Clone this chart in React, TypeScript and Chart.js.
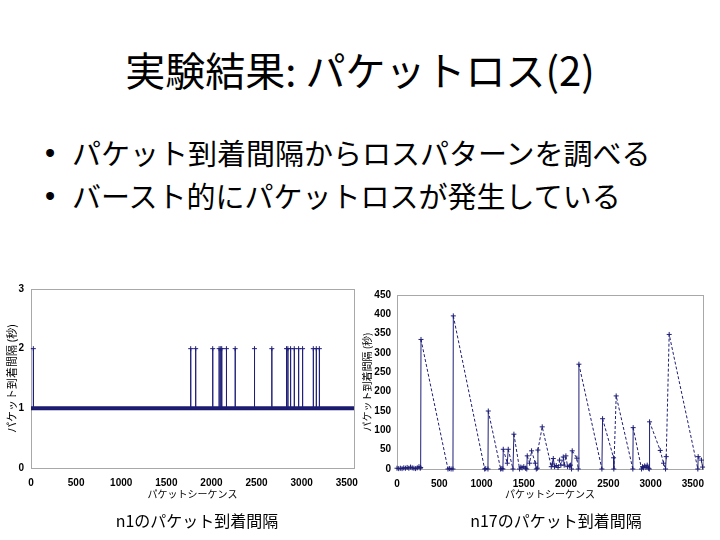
import React, { useEffect, useRef } from "react";
import { Chart, registerables } from "chart.js";

Chart.register(...registerables);

// ---------- text ----------
const slideTitle = "実験結果: パケットロス(2)";
const bulletLines = [
  "パケット到着間隔からロスパターンを調べる",
  "バースト的にパケットロスが発生している",
];
const captionLeft = "n1のパケット到着間隔";
const captionRight = "n17のパケット到着間隔";
const xAxisTitle = "パケットシーケンス";
const yAxisTitle = "パケット到着間隔 (秒)";

// ---------- n1 chart data ----------
const n1XTicks = [0, 500, 1000, 1500, 2000, 2500, 3000, 3500];
const n1YTicks = [0, 1, 2, 3];
const n1SeqRange = [0, 3580];
const n1NormalInterval = 1;
const n1LossInterval = 2;
const n1LossSeq = [
  26, 1770, 1825, 2014, 2085, 2103, 2114, 2166, 2263, 2477, 2669, 2832, 2847,
  2877, 2918, 2966, 3010, 3129, 3162, 3196,
];

// ---------- n17 chart data ----------
const n17XTicks = [0, 500, 1000, 1500, 2000, 2500, 3000, 3500];
const n17YTicks = [0, 50, 100, 150, 200, 250, 300, 350, 400, 450];
const n17Seq = [
  0, 20, 40, 60, 80, 100, 120, 140, 160, 180, 200, 220, 240, 260, 275, 280,
  284, 603, 620, 640, 662, 666, 1037, 1050, 1076, 1080, 1226, 1240, 1253, 1257,
  1305, 1316, 1372, 1383, 1450, 1465, 1480, 1500, 1520, 1535, 1541, 1569, 1592,
  1636, 1648, 1660, 1667, 1718, 1825, 1837, 1849, 1864, 1884, 1905, 1923, 1939,
  1967, 1978, 1998, 2018, 2040, 2053, 2065, 2073, 2128, 2144, 2152, 2424, 2432,
  2562, 2565, 2593, 2790, 2794, 2893, 2905, 2915, 2930, 2945, 2960, 2975, 2985,
  2988, 3114, 3153, 3177, 3185, 3220, 3559, 3563, 3602, 3615,
];
const n17Interval = [
  2, 1, 2, 1, 3, 2, 4, 2, 5, 3, 2, 1, 3, 6, 2, 4,
  335, 0, 1, 0, 0, 396, 0, 1, 0, 150, 0, 1, 0, 51,
  15, 51, 0, 90, 0, 5, 3, 6, 2, 0, 34, 15, 47,
  15, 0, 2, 49, 109, 6, 13, 27, 6, 9, 4, 23, 10,
  31, 10, 34, 6, 8, 10, 0, 47, 28, 0, 271, 0, 130,
  29, 0, 189, 0, 107, 0, 6, 3, 8, 4, 10, 2, 0,
  122, 48, 15, 0, 32, 348, 0, 32, 23, 5,
];

// ---------- styles ----------
const JP = "'Noto Sans CJK JP', 'Noto Sans', sans-serif";
const NUM = "'Liberation Sans', Arial, sans-serif";
const lineColor = "#1f1f78";
const frameColor = "#a8a8a8";

const framePlugin = {
  id: "plotFrame",
  beforeDatasetsDraw(chart: any) {
    const { ctx, chartArea } = chart;
    ctx.save();
    ctx.strokeStyle = frameColor;
    ctx.lineWidth = 1;
    ctx.strokeRect(
      Math.round(chartArea.left) + 0.5,
      Math.round(chartArea.top) + 0.5,
      Math.round(chartArea.right - chartArea.left),
      Math.round(chartArea.bottom - chartArea.top)
    );
    ctx.restore();
  },
};

function makeScales(opts: {
  xMax: number;
  yMax: number;
  xTicks: number[];
  yTicks: number[];
  yWidth: number;
  xHeight: number;
  yTickPad: number;
  yTitlePad: number;
  yTitleSize: number;
}) {
  return {
    x: {
      type: "linear",
      min: 0,
      max: opts.xMax,
      afterBuildTicks: (s: any) => {
        s.ticks = opts.xTicks.map((v) => ({ value: v }));
      },
      afterFit: (s: any) => {
        s.height = opts.xHeight;
        s.paddingLeft = 0;
        s.paddingRight = 0;
      },
      grid: { display: false, drawTicks: false },
      border: { display: false },
      ticks: {
        padding: 9,
        color: "#000",
        font: { family: NUM, size: 10, weight: "bold" },
        maxRotation: 0,
        autoSkip: false,
        callback: (v: any) => String(v),
      },
      title: {
        display: true,
        text: xAxisTitle,
        color: "#000",
        font: { family: JP, size: 10 },
        padding: { top: 0, bottom: 10 },
      },
    },
    y: {
      type: "linear",
      min: 0,
      max: opts.yMax,
      afterBuildTicks: (s: any) => {
        s.ticks = opts.yTicks.map((v) => ({ value: v }));
      },
      afterFit: (s: any) => {
        s.width = opts.yWidth;
        s.paddingTop = 0;
        s.paddingBottom = 0;
      },
      grid: { display: false, drawTicks: false },
      border: { display: false },
      ticks: {
        padding: opts.yTickPad,
        color: "#000",
        font: { family: NUM, size: 10, weight: "bold" },
        autoSkip: false,
        callback: (v: any) => String(v),
      },
      title: {
        display: true,
        text: yAxisTitle,
        color: "#000",
        font: { family: JP, size: opts.yTitleSize },
        padding: { top: opts.yTitlePad, bottom: 0 },
      },
    },
  };
}

function N1Chart() {
  const ref = useRef<HTMLCanvasElement | null>(null);
  useEffect(() => {
    if (!ref.current) return;
    const spikePoints = n1LossSeq.flatMap((s) => [
      { x: s - 1, y: n1NormalInterval },
      { x: s, y: n1LossInterval },
      { x: s + 1, y: n1NormalInterval },
    ]);
    const basePoints = [
      { x: n1SeqRange[0], y: n1NormalInterval },
      { x: n1SeqRange[1], y: n1NormalInterval },
    ];
    const chart = new Chart(ref.current, {
      type: "line",
      data: {
        datasets: [
          {
            data: spikePoints,
            borderColor: lineColor,
            borderWidth: 1,
            pointStyle: "cross",
            pointRadius: (c: any) => (c.raw && c.raw.y === n1LossInterval ? 2.5 : 0),
            pointBorderWidth: 1,
            pointBorderColor: lineColor,
            clip: false,
          },
          {
            data: basePoints,
            borderColor: "#1a1a6e",
            borderWidth: 4,
            pointRadius: 0,
            clip: false,
          },
        ],
      },
      options: {
        animation: false,
        responsive: false,
        maintainAspectRatio: false,
        layout: { padding: { left: 0, right: 6, top: 9, bottom: 0 } },
        plugins: { legend: { display: false }, tooltip: { enabled: false } },
        scales: makeScales({
          xMax: n1SeqRange[1],
          yMax: 3,
          xTicks: n1XTicks,
          yTicks: n1YTicks,
          yWidth: 31,
          xHeight: 42,
          yTickPad: 7,
          yTitlePad: 5,
          yTitleSize: 11,
        }) as any,
      },
      plugins: [framePlugin],
    } as any);
    return () => chart.destroy();
  }, []);
  return (
    <canvas
      ref={ref}
      width={360}
      height={230}
      style={{ position: "absolute", left: 0, top: 280, width: 360, height: 230 }}
    />
  );
}

function N17Chart() {
  const ref = useRef<HTMLCanvasElement | null>(null);
  useEffect(() => {
    if (!ref.current) return;
    const points = n17Seq.map((s, i) => ({ x: s, y: n17Interval[i] }));
    const chart = new Chart(ref.current, {
      type: "line",
      data: {
        datasets: [
          {
            data: points,
            borderColor: lineColor,
            borderWidth: 1,
            pointStyle: "cross",
            pointRadius: 2.5,
            pointBorderWidth: 1,
            pointBorderColor: lineColor,
            clip: false,
            segment: {
              borderDash: (c: any) =>
                Math.abs(c.p1.parsed.x - c.p0.parsed.x) > 15 ? [3, 2] : undefined,
            },
          },
        ],
      },
      options: {
        animation: false,
        responsive: false,
        maintainAspectRatio: false,
        layout: { padding: { left: 0, right: 17, top: 15, bottom: 0 } },
        plugins: { legend: { display: false }, tooltip: { enabled: false } },
        scales: makeScales({
          xMax: 3620,
          yMax: 450,
          xTicks: n17XTicks,
          yTicks: n17YTicks,
          yWidth: 37,
          xHeight: 41,
          yTickPad: 6,
          yTitlePad: 1,
          yTitleSize: 10,
        }) as any,
      },
      plugins: [framePlugin],
    } as any);
    return () => chart.destroy();
  }, []);
  return (
    <canvas
      ref={ref}
      width={360}
      height={230}
      style={{ position: "absolute", left: 360, top: 280, width: 360, height: 230 }}
    />
  );
}

export default function App() {
  return (
    <div
      style={{
        position: "fixed",
        left: 0,
        top: 0,
        width: 720,
        height: 540,
        background: "#fff",
        color: "#000",
        fontFamily: JP,
        overflow: "hidden",
      }}
    >
      <div
        style={{
          position: "absolute",
          left: 0,
          top: 45,
          width: 720,
          textAlign: "center",
          fontSize: 40,
          lineHeight: "48px",
          whiteSpace: "nowrap",
        }}
      >
        {slideTitle}
      </div>
      {bulletLines.map((t, i) => (
        <React.Fragment key={i}>
          <div
            style={{
              position: "absolute",
              left: 45,
              top: 135 + i * 43,
              fontFamily: NUM,
              fontSize: 29,
              lineHeight: "36px",
            }}
          >
            •
          </div>
          <div
            style={{
              position: "absolute",
              left: 72,
              top: 134 + i * 43,
              fontSize: 29,
              lineHeight: "36px",
              whiteSpace: "nowrap",
            }}
          >
            {t}
          </div>
        </React.Fragment>
      ))}
      <N1Chart />
      <N17Chart />
      <div
        style={{
          position: "absolute",
          left: 97,
          width: 200,
          top: 510,
          textAlign: "center",
          fontSize: 16,
          lineHeight: "20px",
          whiteSpace: "nowrap",
        }}
      >
        {captionLeft}
      </div>
      <div
        style={{
          position: "absolute",
          left: 456,
          width: 200,
          top: 510,
          textAlign: "center",
          fontSize: 16,
          lineHeight: "20px",
          whiteSpace: "nowrap",
        }}
      >
        {captionRight}
      </div>
    </div>
  );
}
